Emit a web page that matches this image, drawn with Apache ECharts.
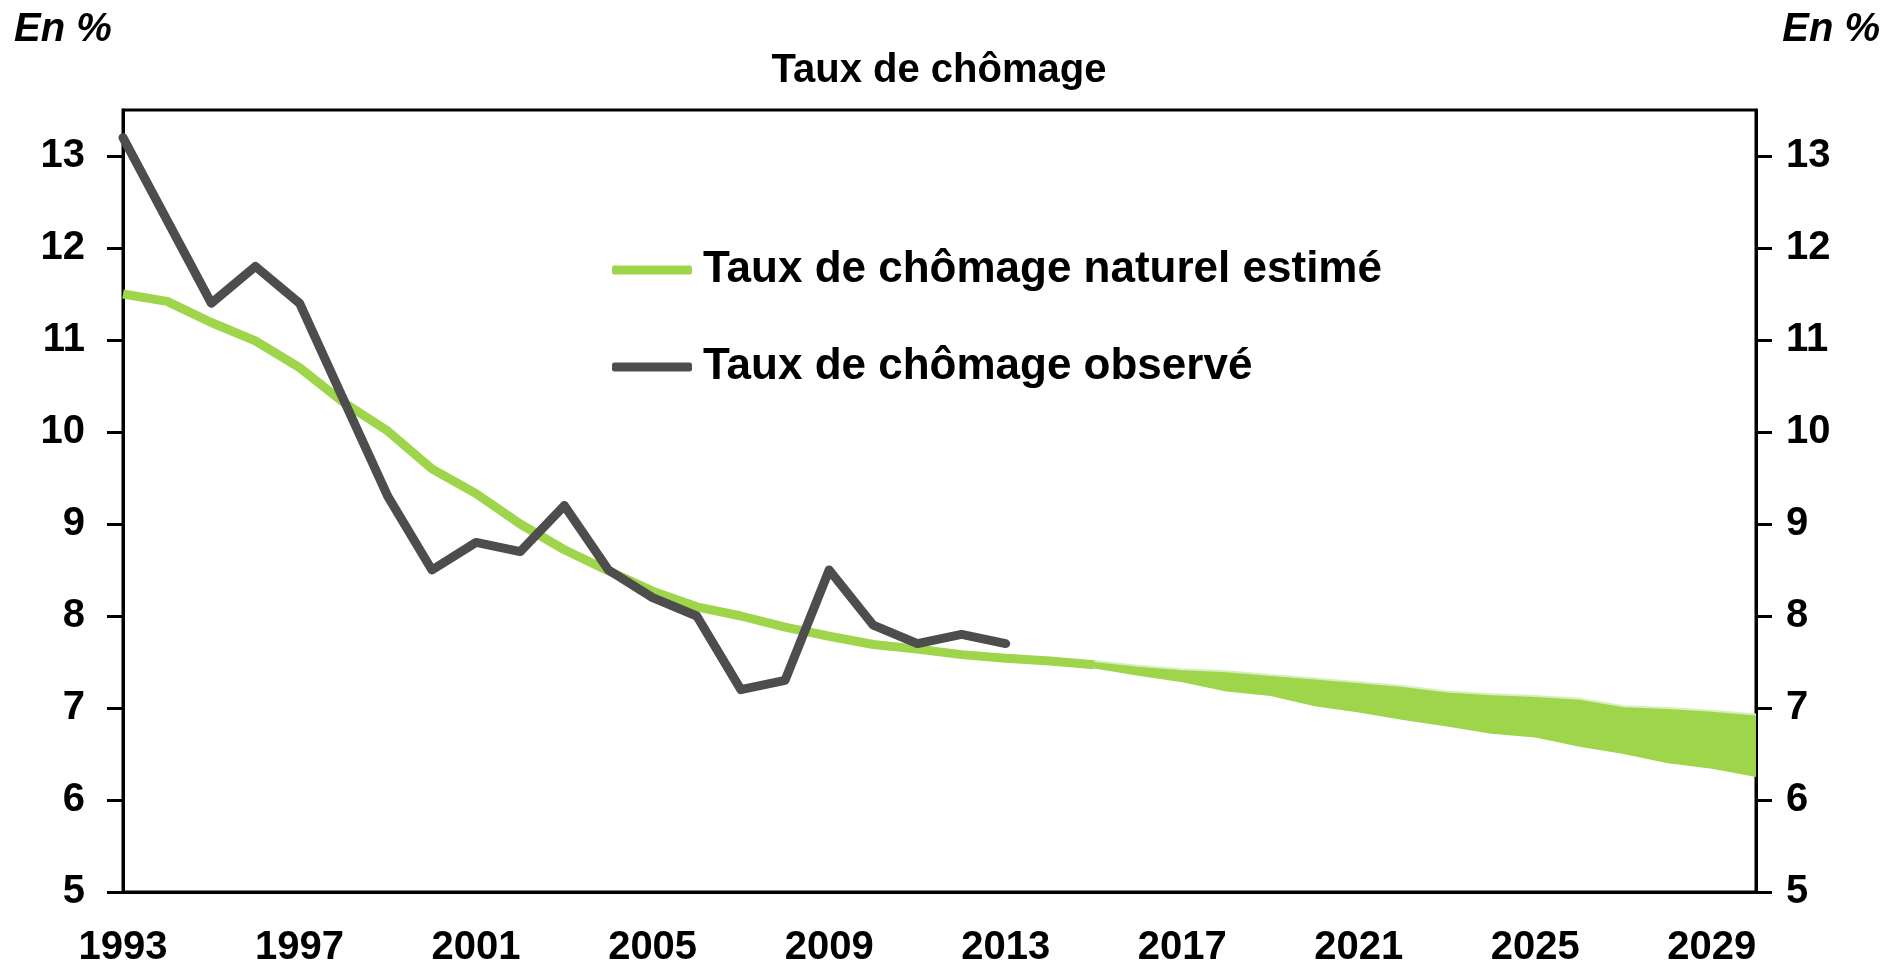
<!DOCTYPE html>
<html>
<head>
<meta charset="utf-8">
<title>Taux de chômage</title>
<script src="https://cdn.jsdelivr.net/npm/echarts@6/dist/echarts.min.js"></script>
<style>
  html, body { margin: 0; padding: 0; background: #fff; }
  #chart { width: 1902px; height: 968px; }
</style>
</head>
<body>
<div id="chart"></div>
<script>
// années 1993 -> 2030
var years = []
for (var y = 1993; y <= 2030; y++) years.push(String(y))

var yTicks = [5, 6, 7, 8, 9, 10, 11, 12, 13]

// taux de chômage observé, 1993 -> 2013
var observe = [13.2, 12.3, 11.4, 11.8, 11.4, 10.35, 9.3, 8.5, 8.8, 8.7, 9.2,
  8.5, 8.2, 8.0, 7.2, 7.3, 8.5, 7.9, 7.7, 7.8, 7.7]

// taux naturel estimé, 1993 -> 2015
var naturel = [11.5, 11.42, 11.19, 10.99, 10.7, 10.32, 10.01, 9.6, 9.33, 9.0, 8.72,
  8.49, 8.27, 8.1, 8.0, 7.88, 7.78, 7.69, 7.64, 7.58, 7.54, 7.51, 7.47]

// fourchette de projection, 2015 -> 2030
var bandStart = 2015
var bandHaut = [7.51, 7.46, 7.42, 7.40, 7.36, 7.32, 7.28, 7.24, 7.18, 7.15, 7.13, 7.10, 7.02, 7.00, 6.97, 6.93]
var bandBas = [7.43, 7.35, 7.28, 7.18, 7.13, 7.02, 6.95, 6.87, 6.80, 6.72, 6.68, 6.58, 6.50, 6.40, 6.34, 6.25]

var VERT = '#9ed54a'
var GRIS = '#4d4d4d'
var FONT = 'Liberation Sans, Arial, sans-serif'

var offset = bandStart - 1993
var baseData = []
var diffData = []
for (var i = 0; i < years.length; i++) {
  var k = i - offset
  if (k >= 0 && k < bandHaut.length) {
    baseData.push(bandBas[k])
    diffData.push(+(bandHaut[k] - bandBas[k]).toFixed(3))
  } else {
    baseData.push(null)
    diffData.push(null)
  }
}

var chart = echarts.init(document.getElementById('chart'))

var yAxisCommon = {
  type: 'value',
  min: 5,
  max: 13.5,
  interval: 1,
  splitLine: { show: false },
  axisLine: { show: true, lineStyle: { color: '#000', width: 3 } },
  axisTick: { show: true, length: 16, lineStyle: { color: '#000', width: 3 }, customValues: yTicks },
  axisLabel: { color: '#000', fontSize: 40, fontWeight: 'bold', fontFamily: FONT, customValues: yTicks }
}

var legendText = { color: '#000', fontSize: 44, fontWeight: 'bold', fontFamily: FONT, lineHeight: 50, padding: [0, 0, 0, 6] }

chart.setOption({
  animation: false,
  backgroundColor: '#fff',
  grid: {
    left: 123, right: 146, top: 110, bottom: 75,
    show: true, borderColor: '#000', borderWidth: 3
  },
  legend: [
    {
      data: ['Taux de chômage naturel estimé'],
      left: 612, top: 245, padding: 0,
      icon: 'roundRect', itemWidth: 80, itemHeight: 9,
      textStyle: legendText
    },
    {
      data: ['Taux de chômage observé'],
      left: 612, top: 342, padding: 0,
      icon: 'roundRect', itemWidth: 80, itemHeight: 9,
      textStyle: legendText
    }
  ],
  graphic: [
    { type: 'text', left: 14, top: 10, style: { text: 'En %', fill: '#000', font: 'italic bold 40px ' + FONT } },
    { type: 'text', right: 22, top: 10, style: { text: 'En %', fill: '#000', font: 'italic bold 40px ' + FONT } },
    { type: 'text', x: 939, y: 71, style: { text: 'Taux de chômage', fill: '#000', font: 'bold 40px ' + FONT, textAlign: 'center', textVerticalAlign: 'middle' } }
  ],
  xAxis: {
    type: 'category',
    data: years,
    boundaryGap: false,
    axisLine: { show: true, lineStyle: { color: '#000', width: 3 } },
    axisTick: { show: false },
    axisLabel: { interval: 3, margin: 36, color: '#000', fontSize: 40, fontWeight: 'bold', fontFamily: FONT }
  },
  yAxis: [
    Object.assign({}, yAxisCommon, { position: 'left', axisLabel: Object.assign({}, yAxisCommon.axisLabel, { margin: 38 }) }),
    Object.assign({}, yAxisCommon, { position: 'right', axisLabel: Object.assign({}, yAxisCommon.axisLabel, { margin: 30 }) })
  ],
  series: [
    {
      name: 'bande-bas',
      type: 'line',
      stack: 'bande',
      data: baseData,
      symbol: 'none',
      lineStyle: { width: 0, opacity: 0 },
      silent: true
    },
    {
      name: 'bande',
      type: 'line',
      stack: 'bande',
      data: diffData,
      symbol: 'none',
      lineStyle: { width: 2, color: '#d6efbd' },
      areaStyle: { color: VERT, opacity: 1 },
      silent: true
    },
    {
      name: 'Taux de chômage naturel estimé',
      type: 'line',
      data: naturel,
      symbol: 'none',
      itemStyle: { color: VERT },
      lineStyle: { color: VERT, width: 9 }
    },
    {
      name: 'Taux de chômage observé',
      type: 'line',
      data: observe,
      symbol: 'none',
      itemStyle: { color: GRIS },
      lineStyle: { color: GRIS, width: 9, cap: 'round', join: 'round' }
    }
  ]
})
</script>
</body>
</html>
